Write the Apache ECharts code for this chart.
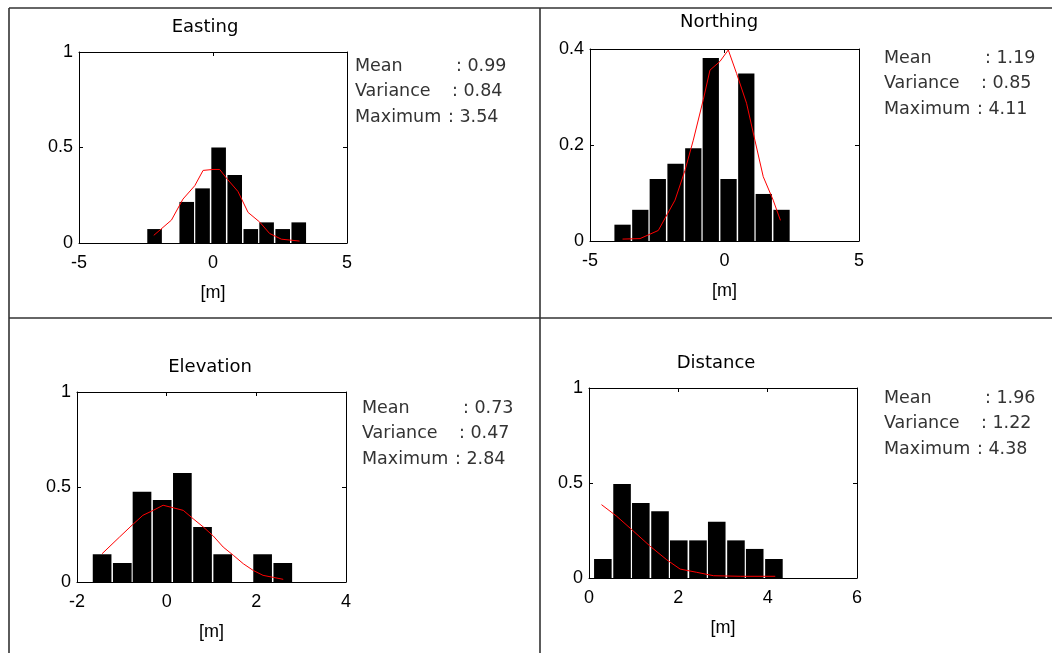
<!DOCTYPE html>
<html>
<head>
<meta charset="utf-8">
<script src="https://cdn.jsdelivr.net/npm/echarts@6/dist/echarts.min.js"></script>
<style>
  html, body { margin: 0; padding: 0; background: #fff; }
  #main { width: 1052px; height: 653px; }
</style>
</head>
<body>
<div id="main"></div>
<script>
// ---- data ----
var eastCenters = [-2.18, -1.58, -0.98, -0.39, 0.21, 0.81, 1.41, 2.00, 2.60, 3.20];
var eastHeights = [0.073, 0, 0.215, 0.286, 0.50, 0.356, 0.073, 0.108, 0.073, 0.108];
var eastCurveX = [-2.21, -1.55, -1.12, -0.68, -0.37, 0.0, 0.25, 0.50, 0.93, 1.31, 1.74, 2.11, 2.55, 3.23];
var eastCurveY = [0.04, 0.12, 0.23, 0.30, 0.38, 0.385, 0.385, 0.34, 0.27, 0.16, 0.11, 0.05, 0.02, 0.01];
var eastStats = ['0.99', '0.84', '3.54'];

var northCenters = [-3.79, -3.13, -2.48, -1.82, -1.16, -0.51, 0.15, 0.81, 1.46, 2.12];
var northHeights = [0.034, 0.065, 0.129, 0.161, 0.193, 0.381, 0.129, 0.349, 0.098, 0.065];
var northCurveX = [-3.79, -3.14, -2.46, -1.84, -1.47, -1.16, -0.79, -0.54, -0.17, 0.14, 0.45, 0.82, 1.13, 1.44, 1.81, 2.08];
var northCurveY = [0.004, 0.005, 0.022, 0.085, 0.147, 0.21, 0.294, 0.356, 0.374, 0.398, 0.349, 0.287, 0.21, 0.134, 0.085, 0.043];
var northStats = ['1.19', '0.85', '4.11'];

var elevCenters = [-1.44, -0.99, -0.55, -0.10, 0.35, 0.80, 1.25, 1.69, 2.14, 2.59];
var elevHeights = [0.146, 0.10, 0.475, 0.432, 0.574, 0.289, 0.146, 0, 0.146, 0.10];
var elevCurveX = [-1.44, -1.05, -0.75, -0.53, -0.30, -0.08, 0.14, 0.37, 0.59, 0.82, 1.04, 1.26, 1.49, 1.71, 1.93, 2.15, 2.60];
var elevCurveY = [0.149, 0.237, 0.304, 0.351, 0.377, 0.404, 0.391, 0.377, 0.333, 0.289, 0.242, 0.184, 0.14, 0.096, 0.061, 0.035, 0.014];
var elevStats = ['0.73', '0.47', '2.84'];

var distCenters = [0.31, 0.74, 1.16, 1.59, 2.01, 2.44, 2.86, 3.29, 3.71, 4.14];
var distHeights = [0.10, 0.495, 0.395, 0.351, 0.198, 0.198, 0.296, 0.198, 0.153, 0.10];
var distCurveX = [0.28, 0.62, 0.96, 1.37, 1.74, 2.04, 2.41, 2.79, 3.39, 4.17];
var distCurveY = [0.386, 0.325, 0.254, 0.167, 0.096, 0.047, 0.030, 0.012, 0.009, 0.009];
var distStats = ['1.96', '1.22', '4.38'];

var statNames = ['Mean', 'Variance', 'Maximum'];

// ---- panels: data + layout ----
var panels = [
    {title: 'Easting', centers: eastCenters, heights: eastHeights, cx: eastCurveX, cy: eastCurveY, stats: eastStats,
     bin: 0.597, xMin: -5, xMax: 5, xInt: 5, yMax: 1, yInt: 0.5,
     grid: {left: 79, top: 52, width: 268, height: 191}, titlePos: [205, 27], statPos: [355, 66]},
    {title: 'Northing', centers: northCenters, heights: northHeights, cx: northCurveX, cy: northCurveY, stats: northStats,
     bin: 0.657, xMin: -5, xMax: 5, xInt: 5, yMax: 0.4, yInt: 0.2,
     grid: {left: 590, top: 49, width: 269, height: 192}, titlePos: [719, 22], statPos: [884, 58]},
    {title: 'Elevation', centers: elevCenters, heights: elevHeights, cx: elevCurveX, cy: elevCurveY, stats: elevStats,
     bin: 0.448, xMin: -2, xMax: 4, xInt: 2, yMax: 1, yInt: 0.5,
     grid: {left: 77, top: 392, width: 269, height: 190}, titlePos: [210, 367], statPos: [362, 408]},
    {title: 'Distance', centers: distCenters, heights: distHeights, cx: distCurveX, cy: distCurveY, stats: distStats,
     bin: 0.425, xMin: 0, xMax: 6, xInt: 2, yMax: 1, yInt: 0.5,
     grid: {left: 589, top: 388, width: 268, height: 190}, titlePos: [716, 363], statPos: [884, 398]}
];

var AXIS_FONT = '"Liberation Sans", Arial, sans-serif';
var TEXT_FONT = '"DejaVu Sans", sans-serif';
var colonOffset = [101, 97, 93];
var grids = [], xAxes = [], yAxes = [], series = [], graphics = [];

var lineStyle = {color: '#000', width: 1};
var tickStyle = {show: true, inside: true, length: 4, lineStyle: {color: '#000'}};

function $each(arr, fn) {
    for (var i = 0; i < arr.length; i++) fn(i, arr[i]);
}

$each(panels, function (i, p) {
    grids.push({left: p.grid.left, top: p.grid.top, width: p.grid.width, height: p.grid.height});

    // bottom + top x axes
    xAxes.push({
        type: 'value', gridIndex: i, min: p.xMin, max: p.xMax, interval: p.xInt,
        axisLine: {show: true, onZero: false, lineStyle: lineStyle},
        axisTick: tickStyle, splitLine: {show: false},
        axisLabel: {color: '#000', fontSize: 18, fontFamily: AXIS_FONT, margin: 11},
        name: '[m]', nameLocation: 'middle', nameGap: 41,
        nameTextStyle: {color: '#000', fontSize: 18, fontFamily: AXIS_FONT}
    });
    xAxes.push({
        type: 'value', gridIndex: i, position: 'top', min: p.xMin, max: p.xMax, interval: p.xInt,
        axisLine: {show: true, onZero: false, lineStyle: lineStyle},
        axisTick: tickStyle, splitLine: {show: false}, axisLabel: {show: false}
    });
    // left + right y axes
    yAxes.push({
        type: 'value', gridIndex: i, min: 0, max: p.yMax, interval: p.yInt,
        axisLine: {show: true, onZero: false, lineStyle: lineStyle},
        axisTick: tickStyle, splitLine: {show: false},
        axisLabel: {color: '#000', fontSize: 18, fontFamily: AXIS_FONT, margin: 6}
    });
    yAxes.push({
        type: 'value', gridIndex: i, position: 'right', min: 0, max: p.yMax, interval: p.yInt,
        axisLine: {show: true, onZero: false, lineStyle: lineStyle},
        axisTick: tickStyle, splitLine: {show: false}, axisLabel: {show: false}
    });

    var barData = [];
    for (var k = 0; k < p.centers.length; k++) {
        barData.push([p.centers[k], p.heights[k]]);
    }
    var half = p.bin / 2;
    series.push({
        type: 'custom', xAxisIndex: 2 * i, yAxisIndex: 2 * i, data: barData, silent: true, z: 2,
        renderItem: function (params, api) {
            var c = api.value(0), h = api.value(1);
            if (!h) return;
            var p0 = api.coord([c - half, 0]);
            var p1 = api.coord([c + half, h]);
            return {
                type: 'rect',
                shape: {x: p0[0] + 0.7, y: p1[1], width: p1[0] - p0[0] - 1.4, height: p0[1] - p1[1]},
                style: {fill: '#000'}
            };
        }
    });

    var curve = [];
    for (var j = 0; j < p.cx.length; j++) {
        curve.push([p.cx[j], p.cy[j]]);
    }
    series.push({
        type: 'line', xAxisIndex: 2 * i, yAxisIndex: 2 * i, data: curve, z: 3,
        showSymbol: false, symbol: 'none', silent: true,
        lineStyle: {color: '#ff0000', width: 1}
    });

    graphics.push({
        type: 'text', x: p.titlePos[0], y: p.titlePos[1],
        style: {text: p.title, fill: '#000', fontSize: 18, fontFamily: TEXT_FONT, align: 'center', verticalAlign: 'middle'}
    });
    for (var s = 0; s < 3; s++) {
        graphics.push({
            type: 'text', x: p.statPos[0], y: p.statPos[1] + s * 25.5,
            style: {text: statNames[s], fill: '#333', fontSize: 17.5, fontFamily: TEXT_FONT, verticalAlign: 'middle'}
        });
        graphics.push({
            type: 'text', x: p.statPos[0] + colonOffset[s], y: p.statPos[1] + s * 25.5,
            style: {text: ': ' + p.stats[s], fill: '#333', fontSize: 17.5, fontFamily: TEXT_FONT, verticalAlign: 'middle'}
        });
    }
});

// table frame
var frame = [[9, 8, 1052, 8], [9, 8, 9, 653], [540, 8, 540, 653], [9, 318, 1052, 318]];
for (var f = 0; f < frame.length; f++) {
    graphics.push({
        type: 'line', shape: {x1: frame[f][0], y1: frame[f][1], x2: frame[f][2], y2: frame[f][3]},
        style: {stroke: '#333', lineWidth: 1.6}
    });
}

var chart = echarts.init(document.getElementById('main'));
chart.setOption({
    animation: false,
    backgroundColor: '#fff',
    grid: grids,
    xAxis: xAxes,
    yAxis: yAxes,
    series: series,
    graphic: graphics
});
</script>
</body>
</html>
